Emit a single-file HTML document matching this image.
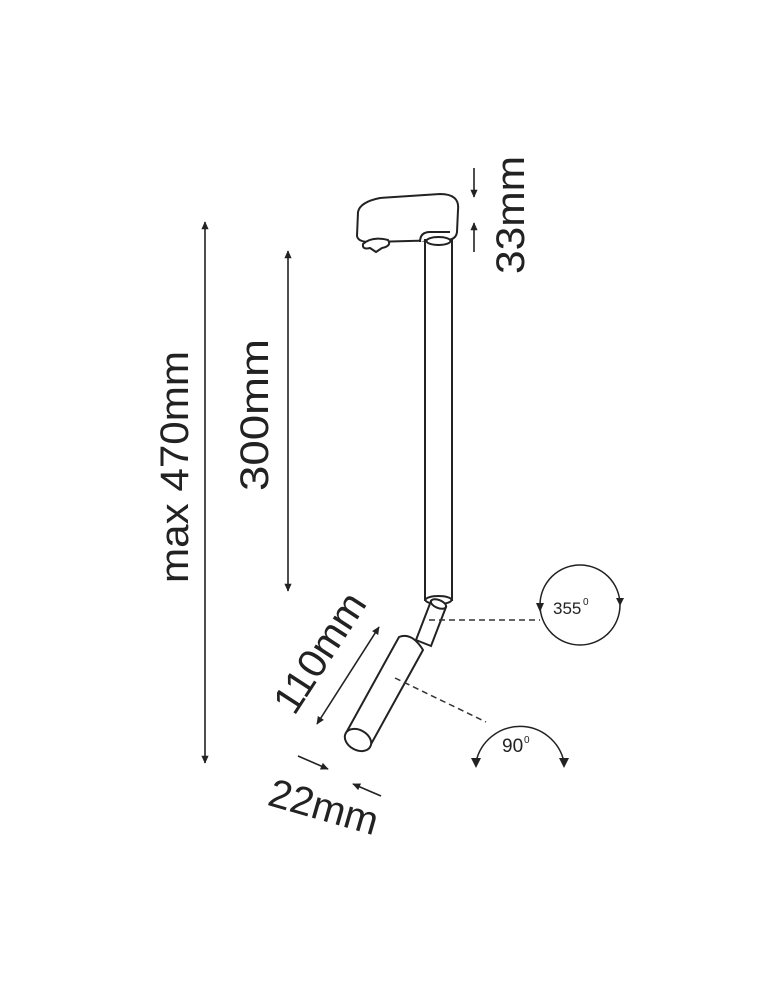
<!DOCTYPE html>
<html><head><style>html,body{margin:0;padding:0;background:#fff}svg{display:block}</style></head>
<body>
<svg width="774" height="1000" viewBox="0 0 774 1000" xmlns="http://www.w3.org/2000/svg" font-family="Liberation Sans, sans-serif">
<defs>
<marker id="a" viewBox="0 0 10 10" refX="9" refY="5" markerWidth="12" markerHeight="8" orient="auto-start-reverse" markerUnits="userSpaceOnUse"><path d="M0,0.5 L10,5 L0,9.5 z" fill="#222"/></marker>
</defs>
<g stroke="#222" stroke-width="1.6" fill="none">
<line x1="205" y1="222" x2="205" y2="763" marker-start="url(#a)" marker-end="url(#a)"/>
<line x1="288" y1="251" x2="288" y2="591" marker-start="url(#a)" marker-end="url(#a)"/>
<line x1="474" y1="168" x2="474" y2="197" marker-end="url(#a)"/>
<line x1="474" y1="252" x2="474" y2="223" marker-end="url(#a)"/>
<line x1="379" y1="627" x2="317" y2="724" marker-start="url(#a)" marker-end="url(#a)"/>
<line x1="298" y1="756" x2="328" y2="769" marker-end="url(#a)"/>
<line x1="381" y1="796" x2="353" y2="784" marker-end="url(#a)"/>
</g>
<g stroke="#222" stroke-width="2" fill="#fff">
<path d="M358,212 Q360,202 380,198 L440,194 Q460,194 458,210 L457,232 Q456,240 446,240 L370,242 Q358,242 357,236 Z"/>
<path d="M420,242 Q420,232 430,232 L450,232"/>
<path d="M363,244 Q372,236 388,240 Q392,246 382,248 L376,252 L370,248 Q362,250 363,244 Z"/>
<rect x="425" y="240" width="27" height="360"/>
<ellipse cx="438.5" cy="241" rx="12" ry="4"/>
<ellipse cx="438.5" cy="600" rx="13" ry="4"/>
<path d="M431,601 L446,607 L431,646 L416,640 Z"/>
<ellipse cx="438.5" cy="604" rx="8" ry="4" transform="rotate(22 438.5 604)"/>
<path d="M399,637 Q412,632 423,650 L370,746 L346,733 Z"/>
<ellipse cx="358" cy="740" rx="14" ry="10" transform="rotate(29 358 740)"/>
</g>
<g stroke="#333" stroke-width="1.5" fill="none" stroke-dasharray="6,4">
<line x1="429" y1="620" x2="540" y2="620"/>
<line x1="395" y1="678" x2="486" y2="722"/>
</g>
<g stroke="#222" stroke-width="1.5" fill="none">
<circle cx="580" cy="605" r="40"/>
<path d="M476,762 A45,45 0 0 1 564,762"/>
</g>
<g fill="#222">
<path d="M536,603 L544,603 L540,612 Z"/>
<path d="M616,598 L624,598 L620,606 Z"/>
<path d="M471,758 L481,758 L476,768 Z"/>
<path d="M559,758 L569,758 L564,768 Z"/>
</g>
<g fill="#222">
<text x="553" y="614" font-size="17">355</text><text x="583" y="605" font-size="10">0</text>
<text x="502" y="752" font-size="19">90</text><text x="524" y="743" font-size="10">0</text>
<text transform="translate(188,467) rotate(-90)" text-anchor="middle" font-size="40" textLength="232" lengthAdjust="spacingAndGlyphs">max 470mm</text>
<text transform="translate(268,415) rotate(-90)" text-anchor="middle" font-size="40" textLength="152" lengthAdjust="spacingAndGlyphs">300mm</text>
<text transform="translate(524,215) rotate(-90)" text-anchor="middle" font-size="40" textLength="118" lengthAdjust="spacingAndGlyphs">33mm</text>
<text transform="translate(331,660) rotate(-57)" text-anchor="middle" font-size="40" textLength="135" lengthAdjust="spacingAndGlyphs">110mm</text>
<text transform="translate(320,820) rotate(16)" text-anchor="middle" font-size="40" textLength="112" lengthAdjust="spacingAndGlyphs">22mm</text>
</g>
</svg>
</body></html>
